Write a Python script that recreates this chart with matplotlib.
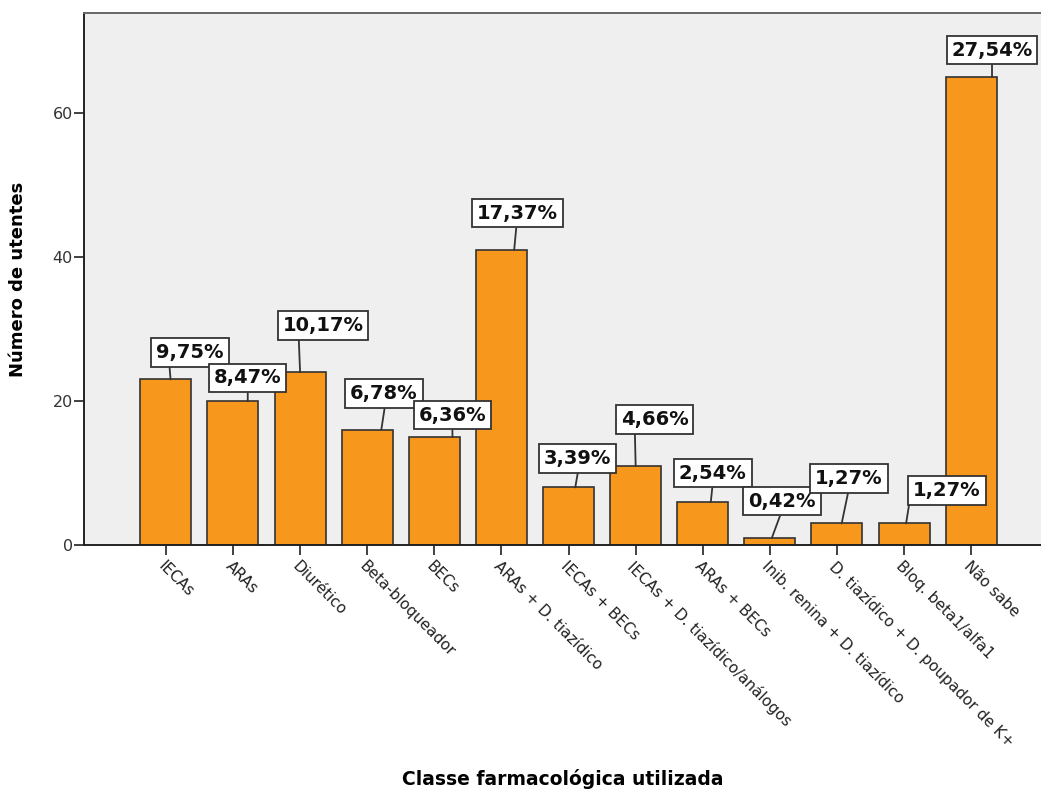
import matplotlib

matplotlib.use("Agg")
import matplotlib.pyplot as plt
import numpy as np

# Pharmacological class used by each patient (counts)
classes = [
    "IECAs",
    "ARAs",
    "Diurético",
    "Beta-bloqueador",
    "BECs",
    "ARAs + D. tiazídico",
    "IECAs + BECs",
    "IECAs + D. tiazídico/análogos",
    "ARAs + BECs",
    "Inib. renina + D. tiazídico",
    "D. tiazídico + D. poupador de K+",
    "Bloq. beta1/alfa1",
    "Não sabe",
]
counts = [23, 20, 24, 16, 15, 41, 8, 11, 6, 1, 3, 3, 65]

# label box placement: offset of box centre from bar top (x, y), leader foot x-offset,
# and horizontal attach point of the leader on the label text
box_dx = [0.36, 0.22, 0.34, 0.25, 0.27, 0.24, 0.13, 0.28, 0.15, 0.18, 0.18, 0.64, 0.31]
box_dy = [3.75, 3.2, 6.5, 5.0, 3.05, 5.1, 4.0, 6.4, 4.0, 5.1, 6.25, 4.6, 3.75]
foot_dx = [0.07, 0.22, 0.0, 0.21, 0.27, 0.19, 0.10, 0.0, 0.12, 0.03, 0.07, 0.03, 0.31]
attach = [0.19, 0.5, 0.20, 0.52, 0.5, 0.49, 0.52, 0.21, 0.5, 0.5, 0.5, -0.05, 0.5]

BAR = "#f7981d"
EDGE = "#333333"

total = sum(counts)
pct = [c / total * 100 for c in counts]

fig = plt.figure(figsize=(10.41, 7.94), dpi=100)
ax = fig.add_axes([84 / 1041, 1 - 545 / 794, 1 - 84 / 1041, (545 - 13) / 794])
ax.set_facecolor("#efefef")

x = np.arange(len(classes))
ax.bar(x, counts, width=0.76, color=BAR, edgecolor=EDGE, linewidth=1.2, zorder=2)

for i, (c, p) in enumerate(zip(counts, pct)):
    label = f"{p:.2f}%".replace(".", ",")
    ax.annotate(
        label,
        xy=(i + foot_dx[i], c),
        xytext=(i + box_dx[i], c + box_dy[i]),
        ha="center",
        va="center",
        fontsize=14,
        fontweight="bold",
        color="#111111",
        bbox=dict(boxstyle="square,pad=0.25", fc="white", ec=EDGE, lw=1.3),
        arrowprops=dict(arrowstyle="-", color=EDGE, lw=1.3, relpos=(attach[i], 0.0),
                        shrinkA=0, shrinkB=0),
        zorder=4,
    )

ax.set_xlim(-1.22, 13.04)
ax.set_ylim(0, 73.9)
ax.set_yticks([0, 20, 40, 60])
ax.set_xticks(x)
ax.set_xticklabels(classes, rotation=-45, ha="left", va="top", rotation_mode="anchor",
                   fontsize=11, color="#222222")
ax.tick_params(axis="y", length=7, width=1.3, color=EDGE, labelsize=11.5,
               labelcolor="#333333", pad=1)
ax.tick_params(axis="x", length=7, width=1.3, color=EDGE, pad=3)

for side in ["left", "bottom"]:
    ax.spines[side].set_color("#222222")
    ax.spines[side].set_linewidth(1.4)
ax.spines["top"].set_color("#666666")
ax.spines["top"].set_linewidth(1.4)
ax.spines["right"].set_visible(False)

ax.set_ylabel("Número de utentes", fontsize=13, fontweight="bold")
ax.yaxis.set_label_coords(-0.06, 0.5)
ax.set_xlabel("Classe farmacológica utilizada", fontsize=13.5, fontweight="bold", va="center")
ax.xaxis.set_label_coords(0.5, -0.44)

fig.savefig("out.png", dpi=100)
